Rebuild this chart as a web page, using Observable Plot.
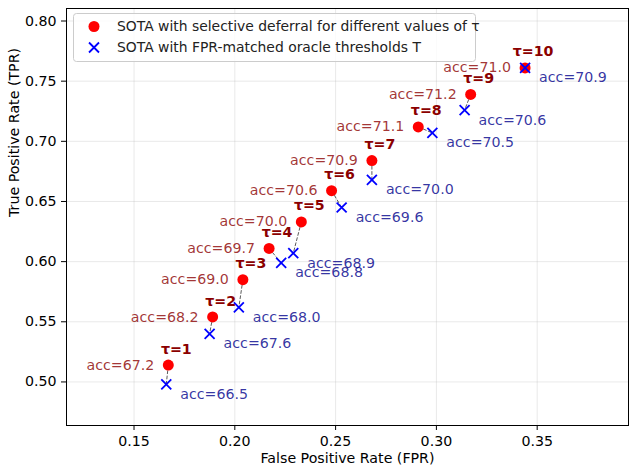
<!DOCTYPE html>
<html>
<head>
<meta charset="utf-8">
<script src="https://cdn.jsdelivr.net/npm/d3@7"></script>
<script src="https://cdn.jsdelivr.net/npm/@observablehq/plot@0.6"></script>
<style>
  html, body { margin: 0; padding: 0; background: white; }
  #chart { width: 636px; height: 472px; }
</style>
</head>
<body>
<div id="chart"></div>
<script>
// Thresholds tau = 1..10
const tau = [1, 2, 3, 4, 5, 6, 7, 8, 9, 10];

// SOTA with selective deferral (red dots)
const fprDeferral = [0.167, 0.189, 0.204, 0.217, 0.233, 0.248, 0.268, 0.291, 0.317, 0.344];
const tprDeferral = [0.514, 0.554, 0.585, 0.611, 0.633, 0.659, 0.684, 0.712, 0.739, 0.761];
const accDeferral = [67.2, 68.2, 69.0, 69.7, 70.0, 70.6, 70.9, 71.1, 71.2, 71.0];

// SOTA with FPR-matched oracle thresholds (blue crosses)
const fprOracle = [0.166, 0.1875, 0.202, 0.223, 0.229, 0.253, 0.268, 0.298, 0.314, 0.344];
const tprOracle = [0.498, 0.540, 0.562, 0.599, 0.607, 0.645, 0.668, 0.707, 0.726, 0.761];
const accOracle = [66.5, 67.6, 68.0, 68.8, 68.9, 69.6, 70.0, 70.5, 70.6, 70.9];

const xTicks = [0.15, 0.20, 0.25, 0.30, 0.35];
const yTicks = [0.50, 0.55, 0.60, 0.65, 0.70, 0.75, 0.80];

const legendLabels = [
  "SOTA with selective deferral for different values of \u03c4",
  "SOTA with FPR-matched oracle thresholds T"
];

const rows = tau.map((t, i) => ({
  tau: t,
  fd: fprDeferral[i], td: tprDeferral[i], ad: accDeferral[i],
  fo: fprOracle[i], to: tprOracle[i], ao: accOracle[i]
}));

const FONT = "DejaVu Sans, sans-serif";
const FS = 14.2;

const chart = Plot.plot({
  width: 636,
  height: 472,
  marginLeft: 66,
  marginRight: 8,
  marginTop: 8,
  marginBottom: 47,
  style: { fontFamily: FONT, fontSize: FS + "px", background: "white", color: "black" },
  x: { domain: [0.1165, 0.3953] },
  y: { domain: [0.4638, 0.8104] },
  marks: [
    Plot.gridX(xTicks, { stroke: "#b0b0b0", strokeOpacity: 0.35, strokeWidth: 0.8 }),
    Plot.gridY(yTicks, { stroke: "#b0b0b0", strokeOpacity: 0.35, strokeWidth: 0.8 }),
    Plot.axisX(xTicks, { tickFormat: d3.format(".2f"), tickSize: 5, tickPadding: 5, label: null, fontSize: FS }),
    Plot.axisY(yTicks, { tickFormat: d3.format(".2f"), tickSize: 5, tickPadding: 5, label: null, fontSize: FS }),
    Plot.text(["False Positive Rate (FPR)"], { frameAnchor: "bottom", dy: 37, fontSize: FS, fill: "black" }),
    Plot.text(["True Positive Rate (TPR)"], { frameAnchor: "left", dx: -52, rotate: -90, fontSize: FS, fill: "black" }),
    // dashed connectors between each pair
    Plot.link(rows, {
      x1: "fd", y1: "td", x2: "fo", y2: "to",
      stroke: "black", strokeOpacity: 0.65, strokeWidth: 1, strokeDasharray: "3.7,1.6"
    }),
    Plot.dot(rows, { x: "fd", y: "td", r: 5.5, fill: "red", stroke: "none" }),
    Plot.dot(rows, { x: "fo", y: "to", r: 4.6, symbol: "times", stroke: "blue", strokeWidth: 1.8 }),
    Plot.text(rows, {
      x: "fd", y: "td", text: d => "acc=" + d.ad.toFixed(1),
      textAnchor: "end", dx: -14, fill: "darkred", fillOpacity: 0.8, fontSize: FS
    }),
    Plot.text(rows, {
      x: "fd", y: "td", text: d => "\u03c4=" + d.tau,
      dx: 8, dy: -16, fill: "darkred", fontWeight: "bold", fontSize: FS
    }),
    Plot.text(rows, {
      x: "fo", y: "to", text: d => "acc=" + d.ao.toFixed(1),
      textAnchor: "start", dx: 14, dy: 10, fill: "darkblue", fillOpacity: 0.8, fontSize: FS
    }),
    Plot.frame({ stroke: "black", strokeWidth: 1 })
  ]
});

document.getElementById("chart").appendChild(chart);

// Legend box in the upper-left corner of the axes
const LFS = 13.9;
const svg = d3.select(chart);
const lg = svg.append("g").attr("font-family", FONT).attr("font-size", LFS).attr("text-anchor", "start");
lg.append("rect")
  .attr("x", 73.5).attr("y", 13.5).attr("width", 402).attr("height", 48).attr("rx", 3)
  .attr("fill", "white").attr("fill-opacity", 0.8).attr("stroke", "#cccccc");
lg.append("circle").attr("cx", 94).attr("cy", 26.5).attr("r", 5.5).attr("fill", "red");
lg.append("path").attr("d", "M89,42.5L99,52.5M89,52.5L99,42.5").attr("stroke", "blue").attr("stroke-width", 1.8);
legendLabels.forEach((t, i) => {
  lg.append("text").attr("x", 117).attr("y", 26.5 + i * 21).attr("dy", "0.35em")
    .attr("text-anchor", "start").attr("fill", "#222").text(t);
});
</script>
</body>
</html>
